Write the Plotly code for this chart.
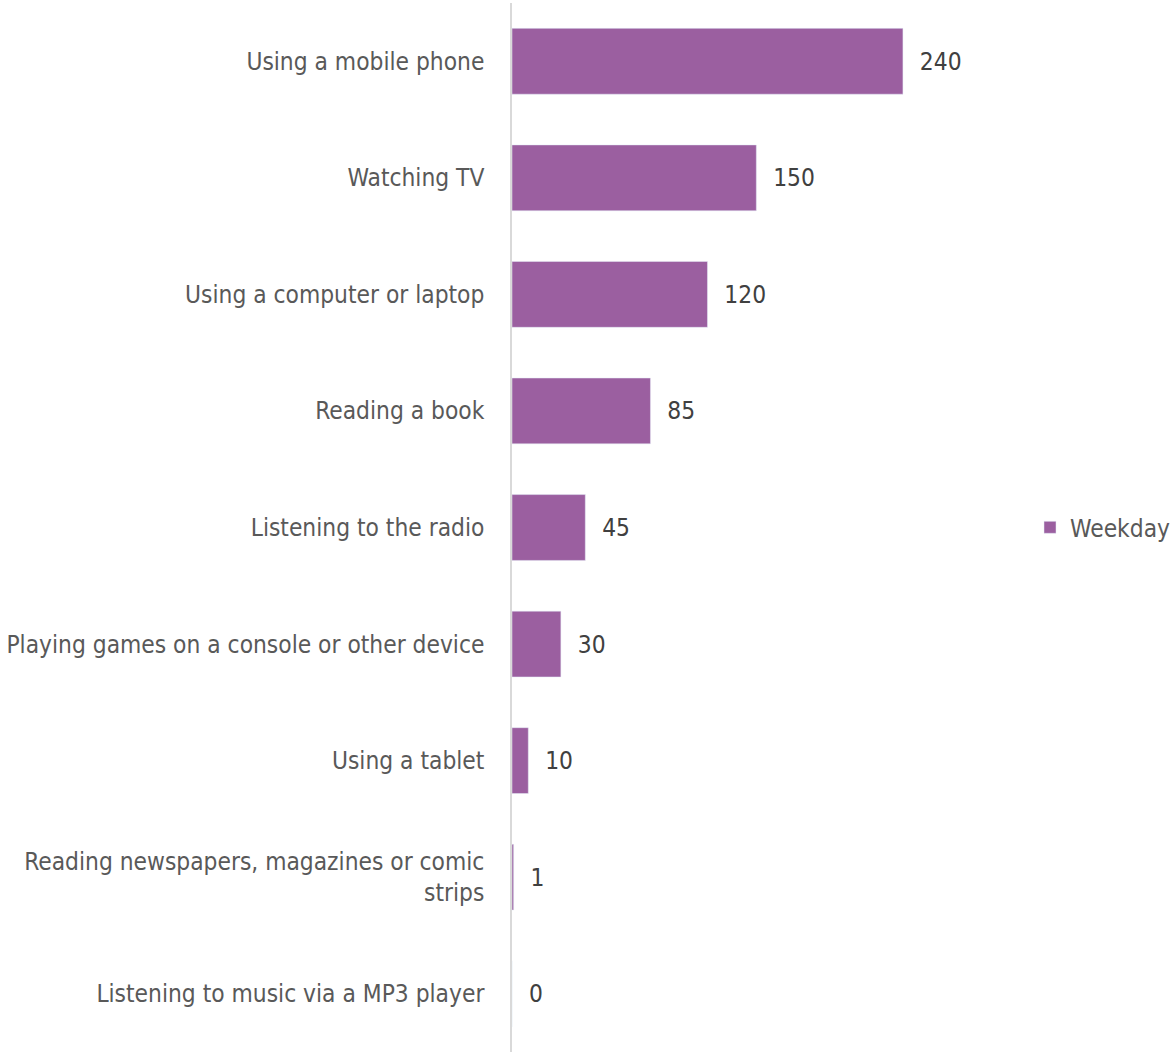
import plotly.graph_objects as go

categories = [
    "Using a mobile phone",
    "Watching TV",
    "Using a computer or laptop",
    "Reading a book",
    "Listening to the radio",
    "Playing games on a console or other device",
    "Using a tablet",
    "Reading newspapers, magazines or comic<br>strips",
    "Listening to music via a MP3 player",
]
weekday = [240, 150, 120, 85, 45, 30, 10, 1, 0]

FONT = "Liberation Sans Narrow, DejaVu Sans Condensed, Roboto Condensed, sans-serif"
FS = 24.3

fig = go.Figure()
fig.add_trace(go.Bar(
    y=categories,
    x=weekday,
    orientation="h",
    name="Weekday",
    marker=dict(color="#9B5FA0"),
    texttemplate="  %{x}",
    textposition="outside",
    textfont=dict(color="#404040", size=FS, family=FONT),
    cliponaxis=False,
    width=0.565,
))

fig.update_layout(
    width=1172,
    height=1052,
    paper_bgcolor="white",
    plot_bgcolor="white",
    margin=dict(l=512, r=142, t=3, b=0, autoexpand=False),
    font=dict(family=FONT, size=FS, color="#595959"),
    showlegend=True,
    legend=dict(
        x=1.0, y=0.5, xanchor="left", yanchor="middle",
        font=dict(size=FS, color="#595959", family=FONT),
        itemwidth=30,
    ),
    xaxis=dict(
        range=[0, 318],
        showgrid=False,
        showticklabels=False,
        zeroline=False,
        showline=False,
        automargin=False,
    ),
    yaxis=dict(
        autorange="reversed",
        showgrid=False,
        showline=True,
        linecolor="#D9D9D9",
        linewidth=1.5,
        ticks="",
        ticklabelstandoff=21,
        automargin=False,
        tickfont=dict(size=FS, color="#595959", family=FONT),
    ),
)

fig.write_html(
    "out.html",
    config={"displayModeBar": False},
    post_script="document.body.style.margin='0';document.body.style.overflow='hidden';",
)
